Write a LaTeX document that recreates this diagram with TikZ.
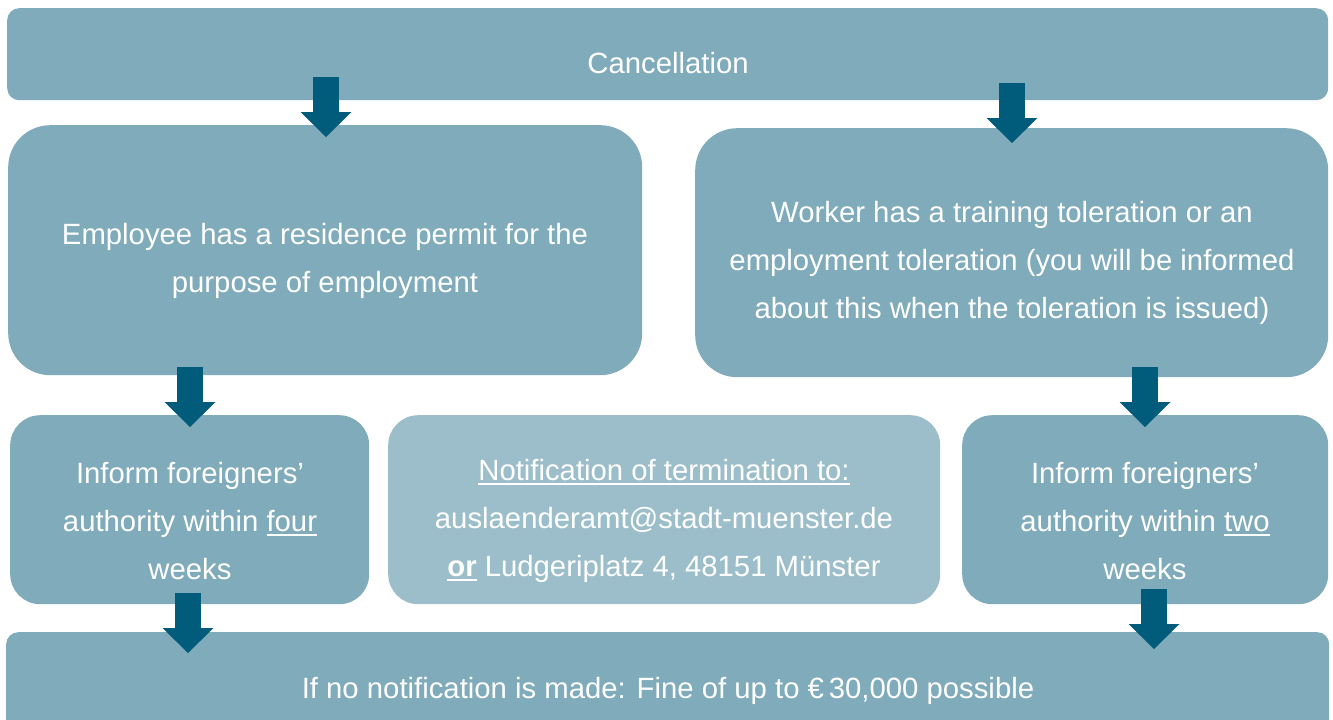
\documentclass[tikz,border=0pt]{standalone}
\usepackage{fontspec}
\setmainfont{Liberation Sans}
\usetikzlibrary{arrows.meta}

\definecolor{boxteal}{RGB}{127,171,186}
\definecolor{boxlight}{RGB}{155,190,202}
\definecolor{arrowteal}{RGB}{0,92,122}

% underline drawn as a rule just below the baseline
\newcommand\undl[1]{\setbox0\hbox{#1}\rlap{\vrule width\wd0 height -2.4pt depth 4.3pt}\box0\relax}

\tikzset{
  panel/.style={rectangle, fill=boxteal, draw=none, inner sep=0pt, anchor=north west},
  lightpanel/.style={panel, fill=boxlight},
  txt/.style={text=white, font=\fontsize{29.3}{48}\selectfont, align=center, inner sep=0pt},
  fatarrow/.style={draw=arrowteal, line width=26pt, line cap=butt,
    -{Triangle[length=25pt, width=51pt, line width=0pt, fill=arrowteal]}},
}

\begin{document}
\begin{tikzpicture}[x=1pt, y=-1pt]
\useasboundingbox (0,0) rectangle (1333,720);

% boxes
\node[panel, minimum width=1321pt, minimum height=92pt, rounded corners=12pt] (cancel) at (7,8) {};
\node[panel, minimum width=634pt, minimum height=250pt, rounded corners=42pt] (permit) at (8,125) {};
\node[panel, minimum width=633pt, minimum height=249pt, rounded corners=42pt] (toler) at (695,128) {};
\node[panel, minimum width=359pt, minimum height=189pt, rounded corners=30pt] (fourwk) at (10,415) {};
\node[lightpanel, minimum width=552pt, minimum height=189pt, rounded corners=30pt] (notify) at (388,415) {};
\node[panel, minimum width=366pt, minimum height=189pt, rounded corners=30pt] (twowk) at (962,415) {};
\node[panel, minimum width=1323pt, minimum height=110pt, rounded corners=12pt] (fine) at (6,632) {};

% texts
\node[txt] (tcancel) at (668,63) {Cancellation};
\node[txt] (tpermit) at (325,261) {Employee has a residence permit for the\\purpose of employment};
\node[txt] (ttoler) at (1012,263) {Worker has a training toleration or an\\employment toleration (you will be informed\\about this when the toleration is issued)};
\node[txt] (tfour) at (190,521) {Inform foreigners’\\authority within \undl{four}\\weeks};
\node[txt] (tnotify) at (664,521) {\undl{Notification of termination to:}\\auslaenderamt@stadt-muenster.de\\\undl{\textbf{or}} Ludgeriplatz 4, 48151 Münster};
\node[txt] (ttwo) at (1145,521) {Inform foreigners’\\authority within \undl{two}\\weeks};
\node[txt] (tfine) at (668,691) {If no notification is made: Fine of up to €\,30,000 possible};

% arrow ends
\coordinate (a1s) at (326,77);   \coordinate (a1e) at (326,137);
\coordinate (a2s) at (1012,83);  \coordinate (a2e) at (1012,143);
\coordinate (a3s) at (190,367);  \coordinate (a3e) at (190,427);
\coordinate (a4s) at (1145,367); \coordinate (a4e) at (1145,427);
\coordinate (a5s) at (188,593);  \coordinate (a5e) at (188,653);
\coordinate (a6s) at (1154,589); \coordinate (a6e) at (1154,649);

\foreach \k in {1,...,6}
  \draw[fatarrow] (a\k s) -- (a\k e);
\end{tikzpicture}
\end{document}
